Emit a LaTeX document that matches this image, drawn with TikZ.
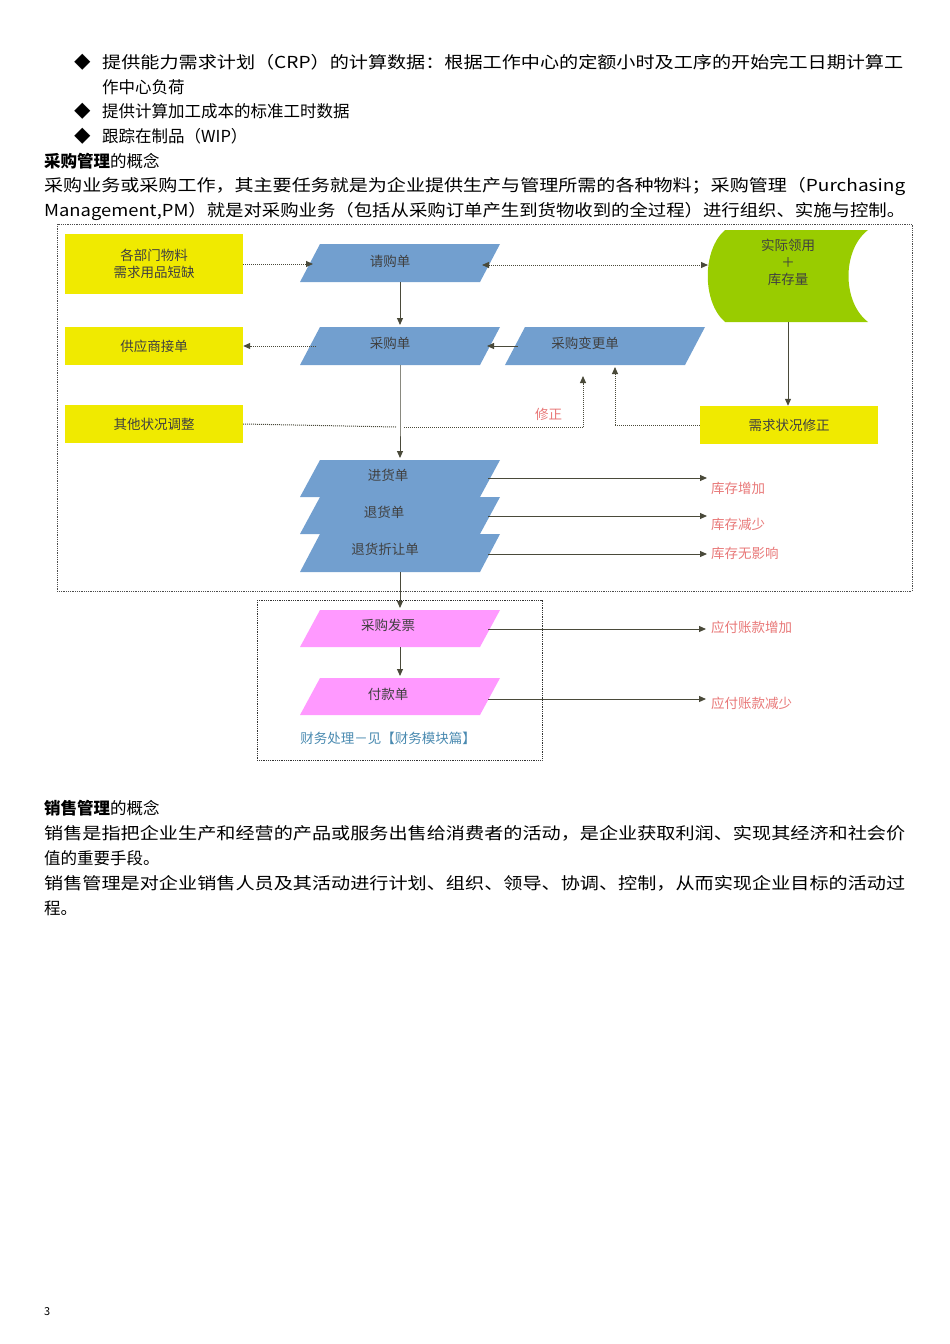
\documentclass[tikz,border=0pt]{standalone}
\usepackage{fontspec}
\usepackage{graphicx}
\setmainfont{Noto Sans CJK SC}
\usetikzlibrary{arrows.meta}
\definecolor{ylw}{HTML}{F0EA00}
\definecolor{blu}{HTML}{729FCF}
\definecolor{grn}{HTML}{99CC00}
\definecolor{pnk}{HTML}{FF99FF}
\definecolor{arr}{HTML}{4A4A3A}
\definecolor{lbl}{HTML}{E87878}
\definecolor{cap}{HTML}{4A8AB0}
\newcommand\pgram[5]{% name, x, ytop, ybot, fill, text in #5? 
  \fill[#5] (#2-100,#4) -- (#2-80,#3) -- (#2+100,#3) -- (#2+80,#4) -- cycle;}
\begin{document}
\begin{tikzpicture}[x=1pt,y=-1pt,
  body/.style={anchor=west,inner sep=0pt,font=\fontsize{16.5}{20}\selectfont},
  dtext/.style={inner sep=1pt,text=black!75,font=\fontsize{13.5}{17}\selectfont,align=center},
  ybox/.style={fill=ylw,minimum width=178pt,inner sep=0pt,dtext},
  lab/.style={anchor=west,inner sep=0pt,text=lbl,font=\fontsize{13.5}{17}\selectfont},
  sol/.style={arr,line width=1pt,-{Triangle[length=7pt,width=6pt]}},
  dot/.style={arr,line width=1pt,densely dotted,-{Triangle[length=7pt,width=6pt]}}]
\useasboundingbox (0,0) rectangle (950,1344);
% top text
\node[body] at (74,62) {◆};
\node[body] (t1) at (102,62) {\resizebox{801pt}{\height}{提供能力需求计划（CRP）的计算数据：根据工作中心的定额小时及工序的开始完工日期计算工}};
\node[body] (t2) at (102,87) {作中心负荷};
\node[body] at (74,111) {◆};
\node[body] (t3) at (102,111) {提供计算加工成本的标准工时数据};
\node[body] at (74,136) {◆};
\node[body] (t4) at (102,136) {跟踪在制品（WIP）};
\node[body] (t5) at (44,161) {\textbf{采购管理}的概念};
\node[body] (t6) at (44,186) {\resizebox{861pt}{\height}{采购业务或采购工作，其主要任务就是为企业提供生产与管理所需的各种物料；采购管理（Purchasing}};
\node[body] (t7) at (44,211) {\resizebox{861pt}{\height}{Management,PM）就是对采购业务（包括从采购订单产生到货物收到的全过程）进行组织、实施与控制。}};
% frames
\draw[black!70,densely dotted,line width=0.8pt] (57,224) rectangle (912,591);
\draw[black!80,densely dotted,line width=0.8pt] (257,600) rectangle (542,760);
% yellow boxes
\node[ybox,minimum height=60pt] (a1) at (154,264) {各部门物料\\需求用品短缺};
\node[ybox,minimum height=38pt] (a2) at (154,346) {供应商接单};
\node[ybox,minimum height=38pt] (a3) at (154,424) {其他状况调整};
\node[ybox,minimum height=38pt] (a4) at (789,425) {需求状况修正};
% green
\fill[grn] (725,230) -- (868,230) .. controls (842,250) and (842,302) .. (868,322) -- (725,322) .. controls (702,302) and (702,250) .. (725,230) -- cycle;
\node[dtext] (g) at (788,262) {实际领用\\＋\\库存量};
% parallelograms
\pgram{b1}{400}{244}{282}{blu}
\node[dtext] (b1) at (390,261) {请购单};
\pgram{b2}{400}{327}{365}{blu}
\node[dtext] (b2) at (390,343) {采购单};
\pgram{b3}{605}{327}{365}{blu}
\node[dtext] (b3) at (585,343) {采购变更单};
\pgram{b4}{400}{460}{497}{blu}
\node[dtext] (b4) at (388,475) {进货单};
\pgram{b5}{400}{497}{534}{blu}
\node[dtext] (b5) at (384,512) {退货单};
\pgram{b6}{400}{534}{572}{blu}
\node[dtext] (b6) at (385,549) {退货折让单};
\pgram{p1}{400}{610}{647}{pnk}
\node[dtext] (p1) at (388,625) {采购发票};
\pgram{p2}{400}{678}{715}{pnk}
\node[dtext] (p2) at (388,694) {付款单};
\node[dtext,text=cap] (cp) at (388,738) {财务处理－见【财务模块篇】};
% labels
\node[lab] (l1) at (711,488) {库存增加};
\node[lab] (l2) at (711,524) {库存减少};
\node[lab] (l3) at (711,553) {库存无影响};
\node[lab] (l4) at (711,627) {应付账款增加};
\node[lab] (l5) at (711,703) {应付账款减少};
\node[lab] (fx) at (535,414) {修正};
% coordinates
\coordinate (c1) at (583,427);
\coordinate (c1t) at (583,376);
\coordinate (c2) at (615,425);
\coordinate (c2t) at (615,367);
% connectors
\draw[dot] (a1.east) -- (313,264);
\draw[dot,{Triangle[length=7pt,width=6pt]}-{Triangle[length=7pt,width=6pt]}] (482,265) -- (708,265);
\draw[sol] (400,282) -- (400,325);
\draw[dot] (316,346) -- (a2.east);
\draw[sol] (518,346) -- (487,346);
\draw[arr,line width=1pt,densely dotted] (a3.east) -- (396,427);
\draw[arr,line width=1pt,densely dotted] (404,427) -- (c1);
\draw[dot] (c1) -- (c1t);
\draw[sol] (400,365) -- (400,422) arc[start angle=180,end angle=0,radius=0pt] -- (400,458);
\draw[sol] (788,322) -- (a4.north-|788,0);
\draw[arr,line width=1pt,densely dotted] (a4.west) -- (c2);
\draw[dot] (c2) -- (c2t);
\draw[sol] (488,478) -- (707,478);
\draw[sol] (488,516) -- (707,516);
\draw[sol] (488,554) -- (707,554);
\draw[sol] (400,572) -- (400,608);
\draw[sol] (400,647) -- (400,676);
\draw[sol] (488,629) -- (706,629);
\draw[sol] (488,699) -- (706,699);
% bottom text
\node[body] (s1) at (44,808) {\textbf{销售管理}的概念};
\node[body] (s2) at (44,833) {\resizebox{861pt}{\height}{销售是指把企业生产和经营的产品或服务出售给消费者的活动，是企业获取利润、实现其经济和社会价}};
\node[body] (s3) at (44,858) {值的重要手段。};
\node[body] (s4) at (44,883) {\resizebox{861pt}{\height}{销售管理是对企业销售人员及其活动进行计划、组织、领导、协调、控制，从而实现企业目标的活动过}};
\node[body] (s5) at (44,908) {程。};
\node[body,font=\fontsize{11}{13}\selectfont] (pg) at (44,1312) {3};
\end{tikzpicture}
\end{document}
